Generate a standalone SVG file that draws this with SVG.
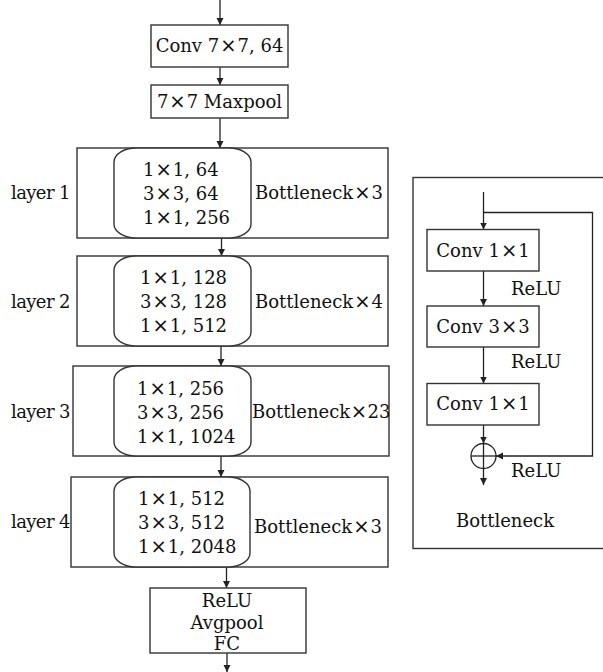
<svg xmlns="http://www.w3.org/2000/svg" width="603" height="672" viewBox="0 0 603 672">
<defs>
<marker id="ah" markerWidth="8" markerHeight="8" refX="7" refY="4" orient="auto" markerUnits="userSpaceOnUse">
<path d="M0,0.5 L7,4 L0,7.5 Z" fill="#222"/>
</marker>
<style>
.box{fill:#fff;stroke:#333;stroke-width:1.4}
.rnd{fill:#fff;stroke:#333;stroke-width:1.4}
.ln{fill:none;stroke:#222;stroke-width:1.3}
text{font-family:"DejaVu Serif","Liberation Serif",serif;font-size:18px;fill:#111}
.x{font-family:"DejaVu Sans","Liberation Sans",sans-serif;font-size:19.5px}
.lay{letter-spacing:-0.6px}
</style>
</defs>
<rect width="603" height="672" fill="#fff"/>
<g id="connectors">
<line class="ln" x1="220" y1="0" x2="220" y2="25" marker-end="url(#ah)"/>
<line class="ln" x1="220" y1="67" x2="220" y2="85" marker-end="url(#ah)"/>
<line class="ln" x1="220" y1="118" x2="220" y2="148" marker-end="url(#ah)"/>
<line class="ln" x1="221.5" y1="238" x2="221.5" y2="256" marker-end="url(#ah)"/>
<line class="ln" x1="221" y1="346" x2="221" y2="366" marker-end="url(#ah)"/>
<line class="ln" x1="221" y1="456" x2="221" y2="477" marker-end="url(#ah)"/>
<line class="ln" x1="226.5" y1="567" x2="226.5" y2="588" marker-end="url(#ah)"/>
<line class="ln" x1="227" y1="653" x2="227" y2="672" marker-end="url(#ah)"/>
<line class="ln" x1="483.5" y1="192" x2="483.5" y2="229.5" marker-end="url(#ah)"/>
<line class="ln" x1="483.5" y1="271" x2="483.5" y2="306" marker-end="url(#ah)"/>
<line class="ln" x1="483.5" y1="347" x2="483.5" y2="383.5" marker-end="url(#ah)"/>
<line class="ln" x1="483.5" y1="425" x2="483.5" y2="443.5" marker-end="url(#ah)"/>
<line class="ln" x1="483.5" y1="468.5" x2="483.5" y2="485" marker-end="url(#ah)"/>
<polyline class="ln" points="483.5,212.5 592.5,212.5 592.5,456 496,456" marker-end="url(#ah)"/>
</g>
<g id="conv">
<rect class="box" x="151" y="25" width="137" height="42"/>
<text x="219.5" y="52" text-anchor="middle">Conv 7<tspan class="x" dx="1">×</tspan><tspan dx="1">7, 64</tspan></text>
</g>
<g id="maxpool">
<rect class="box" x="151" y="85" width="137" height="33"/>
<text x="219.5" y="108" text-anchor="middle">7<tspan class="x" dx="1">×</tspan><tspan dx="1">7 Maxpool</tspan></text>
</g>
<g id="layer1">
<rect class="box" x="77" y="148" width="311" height="90"/>
<rect class="rnd" x="114" y="148" width="137" height="90" rx="22" ry="14"/>
<text x="143" y="176">1<tspan class="x" dx="1">×</tspan><tspan dx="1">1, 64</tspan></text>
<text x="143" y="200">3<tspan class="x" dx="1">×</tspan><tspan dx="1">3, 64</tspan></text>
<text x="143" y="223.5">1<tspan class="x" dx="1">×</tspan><tspan dx="1">1, 256</tspan></text>
<text class="lay" x="11" y="199">layer 1</text>
<text x="255" y="199">Bottleneck<tspan class="x" dx="1">×</tspan><tspan dx="1">3</tspan></text>
</g>
<g id="layer2">
<rect class="box" x="77" y="256" width="311" height="90"/>
<rect class="rnd" x="114" y="256" width="137" height="90" rx="22" ry="14"/>
<text x="140" y="284">1<tspan class="x" dx="1">×</tspan><tspan dx="1">1, 128</tspan></text>
<text x="140" y="308">3<tspan class="x" dx="1">×</tspan><tspan dx="1">3, 128</tspan></text>
<text x="140" y="332">1<tspan class="x" dx="1">×</tspan><tspan dx="1">1, 512</tspan></text>
<text class="lay" x="11" y="308">layer 2</text>
<text x="255" y="308">Bottleneck<tspan class="x" dx="1">×</tspan><tspan dx="1">4</tspan></text>
</g>
<g id="layer3">
<rect class="box" x="73" y="366" width="316" height="90"/>
<rect class="rnd" x="114" y="366" width="137" height="90" rx="22" ry="14"/>
<text x="137" y="395">1<tspan class="x" dx="1">×</tspan><tspan dx="1">1, 256</tspan></text>
<text x="137" y="419">3<tspan class="x" dx="1">×</tspan><tspan dx="1">3, 256</tspan></text>
<text x="137" y="443">1<tspan class="x" dx="1">×</tspan><tspan dx="1">1, 1024</tspan></text>
<text class="lay" x="11" y="418">layer 3</text>
<text x="252" y="418">Bottleneck<tspan class="x" dx="0.5">×</tspan><tspan dx="0.5">23</tspan></text>
</g>
<g id="layer4">
<rect class="box" x="71" y="477" width="317" height="90"/>
<rect class="rnd" x="114" y="477" width="136" height="90" rx="22" ry="14"/>
<text x="138" y="505">1<tspan class="x" dx="1">×</tspan><tspan dx="1">1, 512</tspan></text>
<text x="138" y="529">3<tspan class="x" dx="1">×</tspan><tspan dx="1">3, 512</tspan></text>
<text x="138" y="552.5">1<tspan class="x" dx="1">×</tspan><tspan dx="1">1, 2048</tspan></text>
<text class="lay" x="11" y="528">layer 4</text>
<text x="254" y="533">Bottleneck<tspan class="x" dx="1">×</tspan><tspan dx="1">3</tspan></text>
</g>
<g id="head">
<rect class="box" x="150" y="588" width="156" height="65"/>
<text x="227" y="607" text-anchor="middle">ReLU</text>
<text x="227" y="629" text-anchor="middle">Avgpool</text>
<text x="227" y="650" text-anchor="middle">FC</text>
</g>
<g id="bottleneck-panel">
<rect class="box" x="413" y="177.5" width="200" height="371" style="fill:none"/>
<text x="505" y="527" text-anchor="middle">Bottleneck</text>
</g>
<g id="b-conv1">
<rect class="box" x="427" y="229.5" width="112" height="41.5"/>
<text x="483" y="257" text-anchor="middle">Conv 1<tspan class="x" dx="1">×</tspan><tspan dx="1">1</tspan></text>
</g>
<g id="b-conv3">
<rect class="box" x="427" y="306" width="112" height="41"/>
<text x="483" y="333" text-anchor="middle">Conv 3<tspan class="x" dx="1">×</tspan><tspan dx="1">3</tspan></text>
</g>
<g id="b-conv1b">
<rect class="box" x="427" y="383.5" width="112" height="41.5"/>
<text x="483" y="410" text-anchor="middle">Conv 1<tspan class="x" dx="1">×</tspan><tspan dx="1">1</tspan></text>
</g>
<g id="b-add">
<circle cx="483.5" cy="456" r="12.5" fill="#fff" stroke="#222" stroke-width="1.3"/>
<line class="ln" x1="471" y1="456" x2="496" y2="456"/>
<line class="ln" x1="483.5" y1="443.5" x2="483.5" y2="468.5"/>
</g>
<g id="relu-labels">
<text x="511" y="295">ReLU</text>
<text x="511" y="368">ReLU</text>
<text x="511" y="477">ReLU</text>
</g>
</svg>
